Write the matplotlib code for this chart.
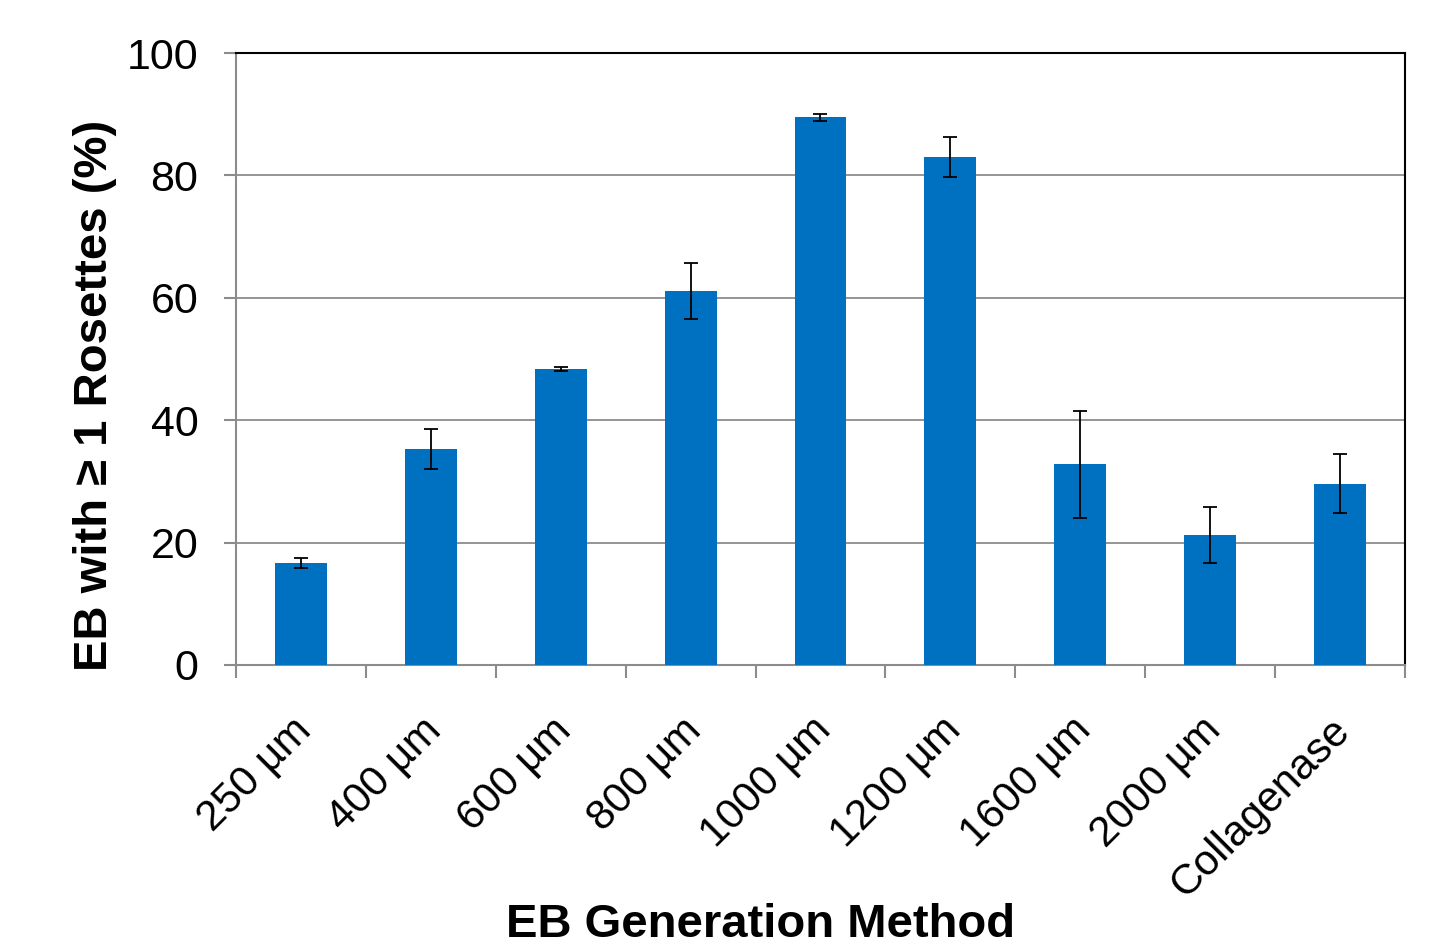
import numpy as np
import matplotlib.pyplot as plt
import matplotlib.transforms as mtransforms
from matplotlib.ticker import FixedLocator

plt.rcParams['font.family'] = ['Liberation Sans', 'DejaVu Sans']

# data
methods = ['250 µm', '400 µm', '600 µm', '800 µm', '1000 µm', '1200 µm',
           '1600 µm', '2000 µm', 'Collagenase']
pct_rosettes = [16.7, 35.3, 48.4, 61.1, 89.5, 83.0, 32.8, 21.2, 29.6]
pct_err = [0.8, 3.3, 0.3, 4.6, 0.6, 3.2, 8.7, 4.6, 4.8]

fig = plt.figure(figsize=(14.44, 9.5), dpi=100)
ax = fig.add_axes([0.1634, 0.3, 0.8096, 0.6442])

x = np.arange(len(methods))
ax.bar(x, pct_rosettes, width=0.4, color='#0070C0', zorder=3)
ax.errorbar(x, pct_rosettes, yerr=pct_err, fmt='none', ecolor='black',
            elinewidth=1.3, capsize=5, capthick=1.3, zorder=4)

ax.set_xlim(-0.5, len(methods) - 0.5)
ax.set_ylim(0, 100)
ax.set_yticks([0, 20, 40, 60, 80, 100])
ax.yaxis.grid(True, color='#8c8c8c', linewidth=1.3, zorder=0)

ax.set_xticks(x)
ax.set_xticklabels(methods, rotation=45, ha='right', rotation_mode='anchor',
                   fontsize=30.5)
ax.tick_params(axis='x', which='major', length=0, pad=34)
# nudge rotated labels a bit to the left
shift = mtransforms.ScaledTranslation(-10 / 100, 2 / 100, fig.dpi_scale_trans)
for lbl in ax.get_xticklabels():
    lbl.set_transform(lbl.get_transform() + shift)
ax.xaxis.set_minor_locator(FixedLocator(np.arange(-0.5, len(methods), 1.0)))
ax.tick_params(axis='x', which='minor', length=9, width=1.5, color='#8c8c8c')
ax.tick_params(axis='y', labelsize=31, length=9, width=1.5, color='#8c8c8c', pad=18)

for side in ['left', 'bottom']:
    ax.spines[side].set_color('#8c8c8c')
    ax.spines[side].set_linewidth(1.5)
for side in ['top', 'right']:
    ax.spines[side].set_color('black')
    ax.spines[side].set_linewidth(1.5)

ax.set_ylabel('EB with ≥ 1 Rosettes (%)', fontsize=34, fontweight='bold')
ax.yaxis.set_label_coords(-0.102, 0.44)
fig.text(761 / 1444, 1 - 925 / 950, 'EB Generation Method', fontsize=34,
         fontweight='bold', ha='center', va='center')

plt.savefig('out.png', dpi=100)
